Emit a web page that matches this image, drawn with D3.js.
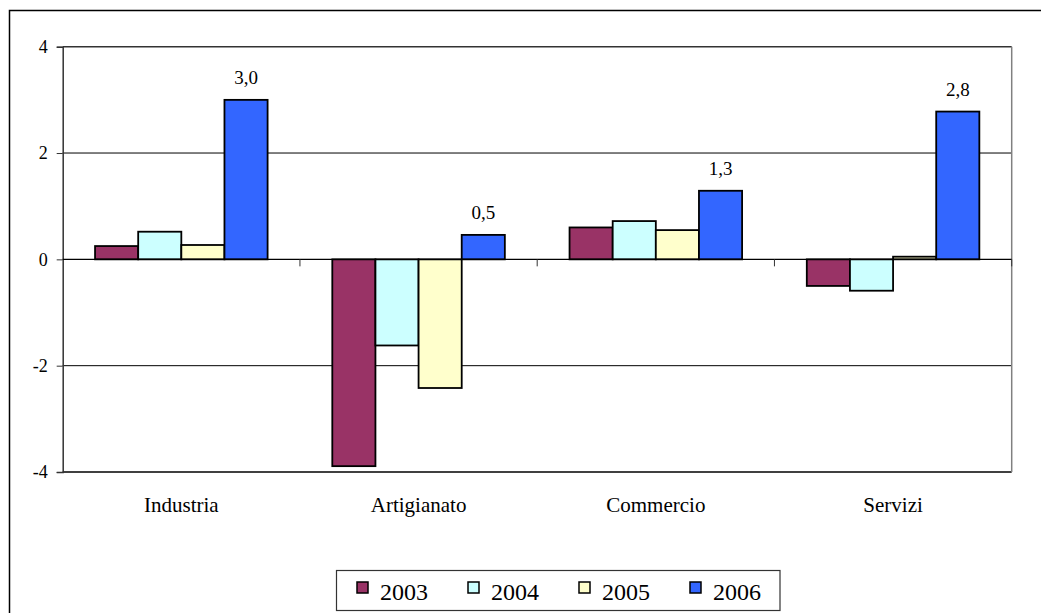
<!DOCTYPE html>
<html>
<head>
<meta charset="utf-8">
<script src="https://cdn.jsdelivr.net/npm/d3@7"></script>
<style>
  html, body { margin: 0; padding: 0; background: #fff; }
  svg { display: block; font-family: "Liberation Serif", "Times New Roman", serif; }
  svg text { font-family: "Liberation Serif", "Times New Roman", serif; }
</style>
</head>
<body>
<svg id="chart" width="1041" height="613"></svg>
<script>
// Variazione percentuale per settore, 2003-2006
const categories = ["Industria", "Artigianato", "Commercio", "Servizi"];
const years = ["2003", "2004", "2005", "2006"];
const values2003 = [0.25, -3.89, 0.60, -0.50];
const values2004 = [0.52, -1.62, 0.72, -0.59];
const values2005 = [0.27, -2.42, 0.55, 0.05];
const values2006 = [3.0, 0.46, 1.29, 2.78];
const labels2006 = ["3,0", "0,5", "1,3", "2,8"];
const yTicks = [-4, -2, 0, 2, 4];
const colors = ["#993366", "#CCFFFF", "#FFFFCC", "#3366FF"];

const seriesValues = [values2003, values2004, values2005, values2006];

const svg = d3.select("#chart");
const W = 1041, H = 613;
const plot = { left: 62.7, right: 1011.7, top: 46.7, bottom: 472 };

// outer chart frame (runs off the right and bottom edges)
svg.append("rect")
  .attr("x", 9.5).attr("y", 10.5)
  .attr("width", W + 20).attr("height", H + 20)
  .attr("fill", "#fff").attr("stroke", "#000").attr("stroke-width", 1.5);

const y = d3.scaleLinear().domain([-4, 4]).range([plot.bottom, plot.top]);
const x0 = d3.scaleBand().domain(categories).range([plot.left, plot.right]).paddingInner(0).paddingOuter(0);
const x1 = d3.scaleBand().domain(years).range([0, x0.bandwidth()]).paddingInner(0).paddingOuter(0.75);

// horizontal gridlines
svg.append("g").selectAll("line")
  .data(yTicks.filter(t => t !== 0))
  .join("line")
  .attr("x1", plot.left).attr("x2", plot.right)
  .attr("y1", d => y(d)).attr("y2", d => y(d))
  .attr("stroke", d => (d === 4 ? "#333" : "#000"))
  .attr("stroke-width", d => (d === 4 || d === -4) ? 1.5 : 1);

// right edge of plot area
svg.append("line")
  .attr("x1", plot.right).attr("x2", plot.right)
  .attr("y1", plot.top).attr("y2", plot.bottom)
  .attr("stroke", "#808080").attr("stroke-width", 1.5);

// value axis (plain hyphen for negatives)
const yAxis = d3.axisLeft(y).tickValues(yTicks).tickSize(6).tickPadding(9)
  .tickFormat(d => String(d));
const gy = svg.append("g").attr("transform", `translate(${plot.left},0)`).call(yAxis);
gy.attr("font-family", null);
gy.select(".domain").attr("stroke", "#333").attr("stroke-width", 1.5);
gy.selectAll(".tick line").attr("stroke", "#333").attr("stroke-width", 1);
gy.selectAll(".tick text").attr("font-size", 18).attr("fill", "#000");

// bars
const groups = svg.append("g").selectAll("g")
  .data(categories)
  .join("g")
  .attr("transform", d => `translate(${x0(d)},0)`);

groups.selectAll("rect")
  .data((c, i) => years.map((yr, j) => ({ yr, j, v: seriesValues[j][i] })))
  .join("rect")
  .attr("x", d => x1(d.yr))
  .attr("width", x1.bandwidth())
  .attr("y", d => y(Math.max(0, d.v)))
  .attr("height", d => Math.abs(y(d.v) - y(0)))
  .attr("fill", d => colors[d.j])
  .attr("stroke", "#000").attr("stroke-width", 1.8);

// category axis along zero
svg.append("line")
  .attr("x1", plot.left).attr("x2", plot.right)
  .attr("y1", y(0)).attr("y2", y(0))
  .attr("stroke", "#000").attr("stroke-width", 1.2);
const boundaries = categories.map(c => x0(c)).concat([plot.right]);
svg.append("g").selectAll("line")
  .data(boundaries.slice(1))
  .join("line")
  .attr("x1", d => d).attr("x2", d => d)
  .attr("y1", y(0)).attr("y2", y(0) + 7)
  .attr("stroke", "#333").attr("stroke-width", 1);

// category labels
svg.append("g").selectAll("text")
  .data(categories)
  .join("text")
  .attr("x", d => x0(d) + x0.bandwidth() / 2)
  .attr("y", 512)
  .attr("text-anchor", "middle")
  .attr("font-size", 21)
  .text(d => d);

// value labels on the 2006 series
svg.append("g").selectAll("text")
  .data(categories)
  .join("text")
  .attr("x", d => x0(d) + x1("2006") + x1.bandwidth() / 2)
  .attr("y", (d, i) => y(values2006[i]) - 16)
  .attr("text-anchor", "middle")
  .attr("font-size", 19)
  .text((d, i) => labels2006[i]);

// legend
const legend = svg.append("g");
legend.append("rect")
  .attr("x", 336.5).attr("y", 570.5).attr("width", 443.5).attr("height", 40)
  .attr("fill", "#fff").attr("stroke", "#333").attr("stroke-width", 1.2);
const items = legend.selectAll("g.item")
  .data(years)
  .join("g")
  .attr("class", "item")
  .attr("transform", (d, i) => `translate(${357 + i * 111},0)`);
items.append("rect")
  .attr("x", 0).attr("y", 582).attr("width", 11).attr("height", 11)
  .attr("fill", (d, i) => colors[i])
  .attr("stroke", "#000").attr("stroke-width", 1.5);
items.append("text")
  .attr("x", 23).attr("y", 600)
  .attr("font-size", 24)
  .text(d => d);
</script>
</body>
</html>
